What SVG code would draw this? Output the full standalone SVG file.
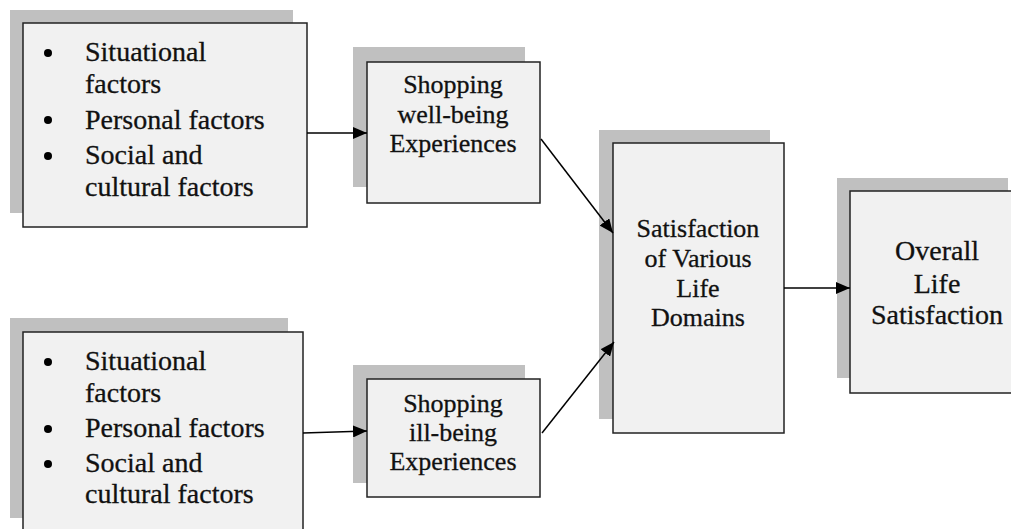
<svg xmlns="http://www.w3.org/2000/svg" width="1011" height="529" viewBox="0 0 1011 529">
  <style>
    .shadow { fill: #c0c0c0; }
    .box { fill: #f1f1f1; stroke: #222; stroke-width: 1.5; }
    .t { font-family: "Liberation Serif", "Times New Roman", serif; fill: #111; stroke: #111; stroke-width: 0.3; }
    .l { font-size: 28px; }
    .m { font-size: 26px; text-anchor: middle; }
    .b { font-size: 28px; text-anchor: middle; }
    .dot { fill: #000; }
    .edge { stroke: #000; stroke-width: 1.5; fill: none; marker-end: url(#arrow); }
  </style>
  <defs>
    <marker id="arrow" viewBox="0 0 14 12" refX="14" refY="6" markerWidth="14" markerHeight="12" markerUnits="userSpaceOnUse" orient="auto">
      <path d="M0,0 L14,6 L0,12 Z" fill="#000"/>
    </marker>
  </defs>

  <!-- factors, upper branch -->
  <g id="factors-top">
    <rect class="shadow" x="10" y="10" width="283" height="203"/>
    <rect class="box" x="23" y="23" width="284" height="204"/>
    <circle class="dot" cx="48" cy="53" r="4"/>
    <circle class="dot" cx="48" cy="120" r="4"/>
    <circle class="dot" cx="48" cy="156" r="4"/>
    <text class="t l" x="85" y="61">Situational</text>
    <text class="t l" x="85" y="93">factors</text>
    <text class="t l" x="85" y="129">Personal factors</text>
    <text class="t l" x="85" y="164">Social and</text>
    <text class="t l" x="85" y="196">cultural factors</text>
  </g>

  <!-- shopping well-being -->
  <g id="well-being">
    <rect class="shadow" x="353" y="47" width="172" height="140"/>
    <rect class="box" x="367" y="62" width="173" height="141"/>
    <text class="t m" x="453" y="93">Shopping</text>
    <text class="t m" x="453" y="123">well-being</text>
    <text class="t m" x="453" y="152">Experiences</text>
  </g>

  <!-- life domains -->
  <g id="life-domains">
    <rect class="shadow" x="599" y="130" width="171" height="289"/>
    <rect class="box" x="613" y="143" width="171" height="290"/>
    <text class="t m" x="698" y="237">Satisfaction</text>
    <text class="t m" x="698" y="267">of Various</text>
    <text class="t m" x="698" y="297">Life</text>
    <text class="t m" x="698" y="326">Domains</text>
  </g>

  <!-- overall life satisfaction -->
  <g id="overall">
    <rect class="shadow" x="837" y="178" width="171" height="200"/>
    <rect class="box" x="850" y="191" width="170" height="202"/>
    <text class="t b" x="937" y="260">Overall</text>
    <text class="t b" x="937" y="293">Life</text>
    <text class="t b" x="937" y="324">Satisfaction</text>
  </g>

  <!-- factors, lower branch -->
  <g id="factors-bottom">
    <rect class="shadow" x="10" y="318" width="278" height="200"/>
    <rect class="box" x="23" y="332" width="280" height="210"/>
    <circle class="dot" cx="48" cy="362" r="4"/>
    <circle class="dot" cx="48" cy="429" r="4"/>
    <circle class="dot" cx="48" cy="464" r="4"/>
    <text class="t l" x="85" y="370">Situational</text>
    <text class="t l" x="85" y="402">factors</text>
    <text class="t l" x="85" y="437">Personal factors</text>
    <text class="t l" x="85" y="472">Social and</text>
    <text class="t l" x="85" y="503">cultural factors</text>
  </g>

  <!-- shopping ill-being -->
  <g id="ill-being">
    <rect class="shadow" x="353" y="365" width="172" height="118"/>
    <rect class="box" x="367" y="379" width="173" height="118"/>
    <text class="t m" x="453" y="412">Shopping</text>
    <text class="t m" x="453" y="441">ill-being</text>
    <text class="t m" x="453" y="470">Experiences</text>
  </g>

  <g id="connectors">
    <line class="edge" x1="307" y1="133" x2="367" y2="133"/>
    <line class="edge" x1="303" y1="433" x2="367" y2="431"/>
    <line class="edge" x1="541" y1="139" x2="613" y2="233"/>
    <line class="edge" x1="542" y1="433" x2="614" y2="342"/>
    <line class="edge" x1="784" y1="288" x2="850" y2="288"/>
  </g>
</svg>
